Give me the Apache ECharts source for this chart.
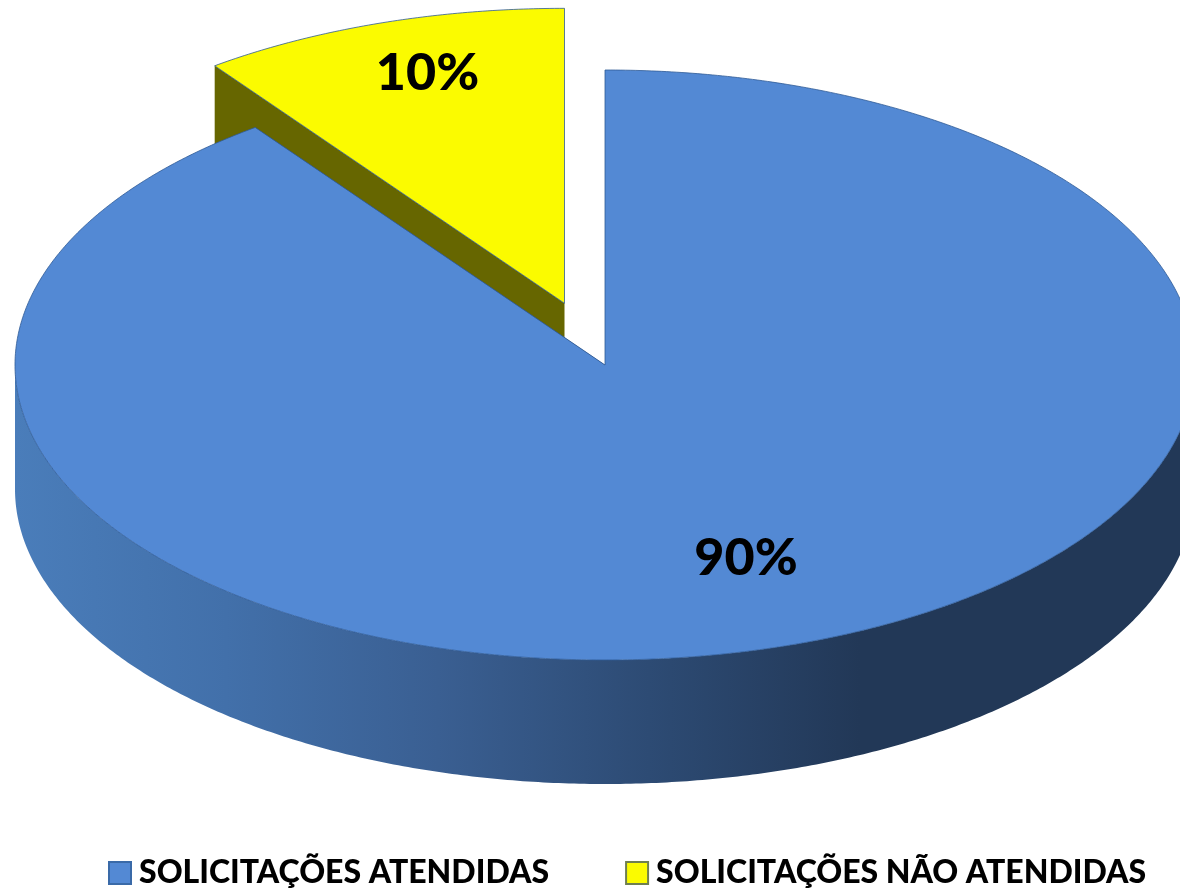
<!DOCTYPE html>
<html>
<head>
<meta charset="utf-8">
<title>Solicitações</title>
<style>
html,body{margin:0;padding:0;background:#fff;}
#chart{width:1180px;height:889px;}
</style>
<script src="https://cdn.jsdelivr.net/npm/echarts@6/dist/echarts.min.js"></script>
</head>
<body>
<div id="chart"></div>
<script>
var categories = ['SOLICITAÇÕES ATENDIDAS', 'SOLICITAÇÕES NÃO ATENDIDAS'];
var values = [89.9, 10.1];
var explode = [0, 0.22];
var topColors = ['#5389D4', '#FBFB00'];
var sideColors = ['#223857', '#666600'];

// pie geometry, the picture is a tilted disc
var cx = 605, cy = 365, rx = 590, ry = 295, depth = 124;
var total = values.reduce(function (a, b) { return a + b; }, 0);

// where the percent labels sit, relative to the slice tip
var labelPos = [[141, 193], [-137, -230]];

function sliceStart(i) {
	var sum = 0;
	for (var k = 0; k < i; k++) sum += values[k];
	return sum / total * 360;
}

function rim(a, ox, oy) {
	var r = a * Math.PI / 180;
	return [ox + rx * Math.sin(r), oy - ry * Math.cos(r)];
}

function arc(from, to, ox, oy) {
	var pts = [];
	var n = Math.max(2, Math.ceil(Math.abs(to - from) * 2));
	for (var k = 0; k <= n; k++) {
		pts.push(rim(from + (to - from) * k / n, ox, oy));
	}
	return pts;
}

function drop(pts) {
	return pts.map(function (p) { return [p[0], p[1] + depth]; }).reverse();
}

var wallGradient = {
	type: 'linear', x: 15, y: 0, x2: 860, y2: 0, global: true,
	colorStops: [
		{ offset: 0, color: '#4A7DBA' },
		{ offset: 0.25, color: '#4270AA' },
		{ offset: 0.5, color: '#3A5F92' },
		{ offset: 0.75, color: '#2D4B74' },
		{ offset: 1, color: '#223857' }
	]
};

function renderSlice(params, api) {
	var i = params.seriesIndex;
	var start = sliceStart(i);
	var end = start + api.value(0) / total * 360;
	var mid = (start + end) / 2 * Math.PI / 180;
	var ox = cx + explode[i] * rx * Math.sin(mid);
	var oy = cy - explode[i] * ry * Math.cos(mid);
	var tip = [ox, oy];
	var children = [];

	// cut faces, the top of the slice covers what should stay hidden
	[start, end].forEach(function (a) {
		var edge = [tip, rim(a, ox, oy)];
		children.push({
			type: 'polygon',
			shape: { points: edge.concat(drop(edge)) },
			style: { fill: sideColors[i] }
		});
	});

	// outer wall, only the front half of the disc shows
	var wallFrom = Math.max(start, 90), wallTo = Math.min(end, 270);
	if (wallTo > wallFrom) {
		var front = arc(wallFrom, wallTo, ox, oy);
		children.push({
			type: 'polygon',
			shape: { points: front.concat(drop(front)) },
			style: { fill: wallGradient }
		});
	}

	children.push({
		type: 'polygon',
		shape: { points: [tip].concat(arc(start, end, ox, oy)) },
		style: { fill: topColors[i], stroke: '#2F5A96', lineWidth: 0.8 }
	});

	children.push({
		type: 'text',
		style: {
			text: Math.round(api.value(0) / total * 100) + '%',
			x: ox + labelPos[i][0],
			y: oy + labelPos[i][1],
			align: 'center',
			verticalAlign: 'middle',
			fill: '#000',
			font: '900 52px Lato'
		}
	});

	return { type: 'group', children: children };
}

var myChart = echarts.init(document.getElementById('chart'));
var option = {
	animation: false,
	backgroundColor: '#fff',
	legend: {
		data: categories,
		left: 103,
		top: 852,
		width: 1075,
		itemWidth: 22,
		itemHeight: 22,
		itemGap: 76,
		icon: 'rect',
		textStyle: {
			color: '#000',
			fontWeight: 900,
			fontSize: 32,
			fontFamily: 'Lato',
			padding: [0, 0, 0, 3]
		}
	},
	series: categories.map(function (name, i) {
		return {
			type: 'custom',
			name: name,
			coordinateSystem: 'none',
			z: i === 0 ? 3 : 2,
			silent: true,
			clip: false,
			itemStyle: { color: topColors[i], borderColor: i === 0 ? '#3A6AA8' : '#6F7F50', borderWidth: 1 },
			renderItem: renderSlice,
			data: [values[i]]
		};
	})
};
myChart.setOption(option);
</script>
</body>
</html>
